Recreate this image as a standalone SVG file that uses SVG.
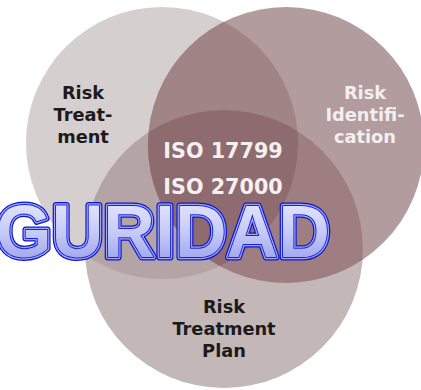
<svg xmlns="http://www.w3.org/2000/svg" width="421" height="390" viewBox="0 0 421 390">
  <defs>
    <clipPath id="cL"><circle cx="162" cy="143" r="136"/></clipPath>
    <clipPath id="cR"><circle cx="286" cy="145" r="138"/></clipPath>
    <clipPath id="cB"><circle cx="224" cy="249" r="139"/></clipPath>
    <linearGradient id="gFill" x1="0" y1="0" x2="0" y2="1">
      <stop offset="0" stop-color="#eef0ff"/>
      <stop offset="0.5" stop-color="#c8ccf6"/>
      <stop offset="1" stop-color="#8f96ea"/>
    </linearGradient>
    <style>
      .lbl { font-family: "DejaVu Sans", Verdana, sans-serif; font-weight: bold; font-size: 17.8px; text-anchor: middle; }
      .dark { fill: #1c1a1a; }
      .light { fill: #f3efef; }
      .iso { font-family: "DejaVu Sans", Verdana, sans-serif; font-weight: bold; font-size: 20.7px; text-anchor: middle; fill: #f5f1f1; }
      .big { font-family: "Liberation Sans", Arial, sans-serif; font-weight: bold; font-size: 75px; }
    </style>
  </defs>
  <rect width="421" height="390" fill="#ffffff"/>
  <g id="risk-treatment">
    <circle cx="162" cy="143" r="136" fill="#d5cfd0"/>
  </g>
  <g id="risk-identification">
    <circle cx="286" cy="145" r="138" fill="#b39c9e"/>
  </g>
  <g id="risk-treatment-plan">
    <circle cx="224" cy="249" r="139" fill="#c3b7b8"/>
  </g>
  <g id="overlaps">
    <circle cx="286" cy="145" r="138" fill="#a08486" clip-path="url(#cL)"/>
    <circle cx="224" cy="249" r="139" fill="#b5a4a6" clip-path="url(#cL)"/>
    <circle cx="224" cy="249" r="139" fill="#9f7e81" clip-path="url(#cR)"/>
    <g clip-path="url(#cL)">
      <circle cx="224" cy="249" r="139" fill="#8e6b6e" clip-path="url(#cR)"/>
    </g>
  </g>
  <g id="labels">
    <text class="lbl dark" x="83" y="99">Risk</text>
    <text class="lbl dark" x="83" y="121">Treat-</text>
    <text class="lbl dark" x="83" y="143">ment</text>
    <text class="lbl light" x="365" y="99">Risk</text>
    <text class="lbl light" x="365" y="121">Identifi-</text>
    <text class="lbl light" x="365" y="143">cation</text>
    <text class="lbl dark" x="224" y="313">Risk</text>
    <text class="lbl dark" x="224" y="335">Treatment</text>
    <text class="lbl dark" x="224" y="357">Plan</text>
    <text class="iso" x="223" y="158">ISO 17799</text>
    <text class="iso" x="223" y="194">ISO 27000</text>
  </g>
  <g id="banner">
    <text class="big" x="-4" y="257" textLength="334" lengthAdjust="spacingAndGlyphs" fill="none" stroke="#0a12d0" stroke-width="7" stroke-linejoin="round">GURIDAD</text>
    <text class="big" x="-4" y="257" textLength="334" lengthAdjust="spacingAndGlyphs" fill="none" stroke="#a4a8f2" stroke-width="4.5" stroke-linejoin="round">GURIDAD</text>
    <text class="big" x="-4" y="257" textLength="334" lengthAdjust="spacingAndGlyphs" fill="none" stroke="#1424dc" stroke-width="2" stroke-linejoin="round">GURIDAD</text>
    <text class="big" x="-4" y="257" textLength="334" lengthAdjust="spacingAndGlyphs" fill="url(#gFill)">GURIDAD</text>
  </g>
</svg>
